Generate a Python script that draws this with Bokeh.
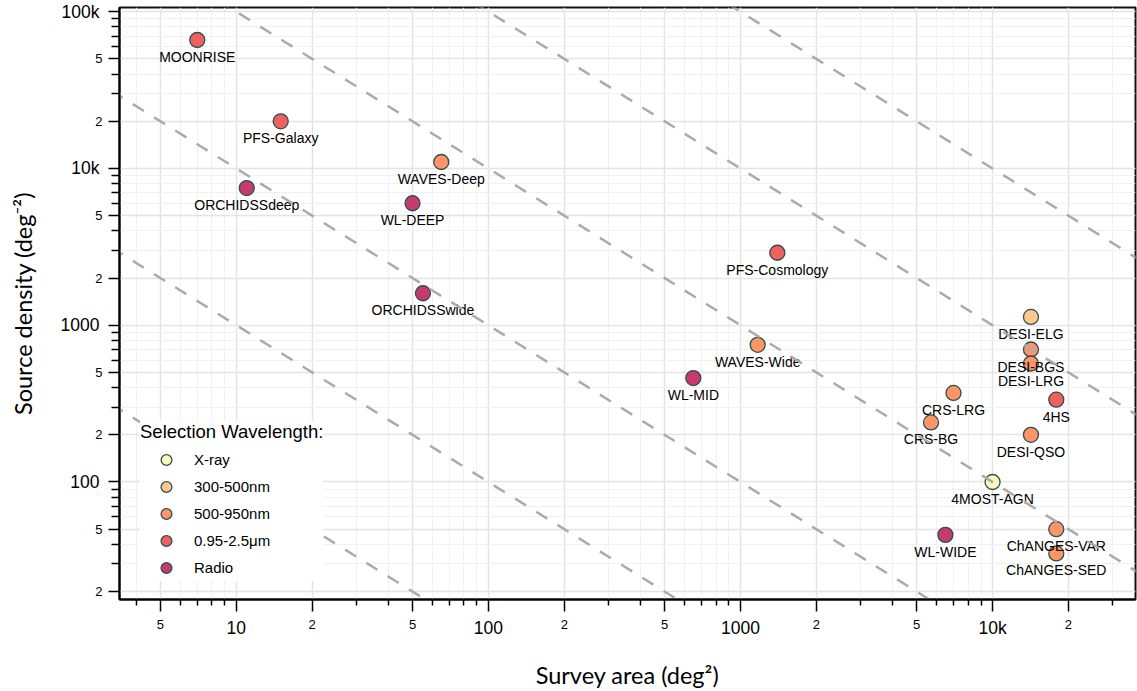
from bokeh.plotting import figure
from bokeh.models import (ColumnDataSource, LogAxis, FixedTicker, Legend, LegendItem,
                          Range1d, Grid)
from bokeh.embed import file_html
from bokeh.resources import INLINE
from bokeh.core.properties import value

# ---------------- data ----------------
names = ["MOONRISE", "PFS-Galaxy", "ORCHIDSSdeep", "WAVES-Deep", "WL-DEEP",
         "ORCHIDSSwide", "PFS-Cosmology", "WAVES-Wide", "WL-MID", "DESI-ELG",
         "DESI-BGS", "DESI-LRG", "4HS", "CRS-LRG", "CRS-BG", "DESI-QSO",
         "4MOST-AGN", "WL-WIDE", "ChANGES-VAR", "ChANGES-SED"]
area = [7, 15, 11, 65, 50, 55, 1400, 1170, 650, 14200,
        14200, 14200, 17900, 7000, 5700, 14200, 10000, 6500, 17900, 17900]
density = [66000, 20000, 7500, 11000, 6000, 1600, 2900, 750, 460, 1130,
           700, 570, 335, 370, 240, 200, 100, 46, 50, 35]
wavelength = ["0.95-2.5μm", "0.95-2.5μm", "Radio", "500-950nm", "Radio",
              "Radio", "0.95-2.5μm", "500-950nm", "Radio", "300-500nm",
              "500-950nm", "500-950nm", "0.95-2.5μm", "500-950nm", "500-950nm",
              "500-950nm", "X-ray", "Radio", "500-950nm", "500-950nm"]

categories = ["X-ray", "300-500nm", "500-950nm", "0.95-2.5μm", "Radio"]
cat_colors = ["#fcf8bb", "#fec98d", "#fd9566", "#f0605d", "#c73a6f"]

total_sources = [1e3, 1e4, 1e5, 1e6, 1e7, 1e8]
line_x = [1, 1e6]

x_decades = [1, 10, 100, 1000, 10000]
x_decade_labels = ["1", "10", "100", "1000", "10k"]
y_decades = [10, 100, 1000, 10000, 100000]
y_decade_labels = ["10", "100", "1000", "10k", "100k"]
labeled_mults = [2, 5]
minor_mults = [3, 4, 6, 7, 8, 9]

# ---------------- figure ----------------
p = figure(width=1137, height=691, x_axis_type="log", y_axis_type="log",
           x_axis_location=None, y_axis_location=None,
           x_range=Range1d(3.44, 36900), y_range=Range1d(17.8, 106400),
           output_backend="svg", toolbar_location=None,
           min_border_left=119, min_border_right=2, min_border_top=7,
           min_border_bottom=91)
p.outline_line_color = "#111111"
p.outline_line_width = 2
p.background_fill_color = "white"

TICK_FONT = "Liberation Sans"
LABEL_FONT = "Lato"


def build_ticks(decades):
    major, minor, overrides = [], [], {}
    for d in decades:
        major.append(d)
        overrides[d] = ""
        for m in labeled_mults:
            major.append(d * m)
            overrides[d * m] = str(m)
        for m in minor_mults:
            minor.append(d * m)
    return major, minor, overrides


xmaj, xmin, xover = build_ticks(x_decades)
ymaj, ymin, yover = build_ticks(y_decades)

# inner x axis: all ticks + small 2/5 labels
xa1 = LogAxis(ticker=FixedTicker(ticks=xmaj, minor_ticks=xmin),
              major_label_overrides=xover,
              major_tick_out=12, major_tick_in=0, minor_tick_out=6, minor_tick_in=0,
              major_tick_line_width=1.5, minor_tick_line_width=1.5,
              axis_line_width=2, major_label_standoff=8,
              major_label_text_font=TICK_FONT, major_label_text_font_size="13px",
              major_label_text_color="black")
# outer x axis: large decade labels
xa2 = LogAxis(ticker=FixedTicker(ticks=x_decades, minor_ticks=[]),
              major_label_overrides=dict(zip(x_decades, x_decade_labels)),
              major_tick_line_color=None, minor_tick_line_color=None,
              axis_line_color=None, major_tick_out=0, major_tick_in=0,
              major_label_standoff=-14,
              major_label_text_font=TICK_FONT, major_label_text_font_size="17.5px",
              major_label_text_color="black",
              axis_label="Survey area (deg²)", axis_label_standoff=20,
              axis_label_text_font=LABEL_FONT, axis_label_text_font_size="23.5px",
              axis_label_text_font_style="normal", axis_label_text_color="black")
p.add_layout(xa1, "below")
p.add_layout(xa2, "below")

ya1 = LogAxis(ticker=FixedTicker(ticks=ymaj, minor_ticks=ymin),
              major_label_overrides=yover,
              major_tick_out=11, major_tick_in=0, minor_tick_out=8, minor_tick_in=0,
              major_tick_line_width=1.5, minor_tick_line_width=1.5,
              axis_line_width=2, major_label_standoff=6,
              major_label_text_font=TICK_FONT, major_label_text_font_size="13px",
              major_label_text_color="black")
ya2 = LogAxis(ticker=FixedTicker(ticks=y_decades, minor_ticks=[]),
              major_label_overrides=dict(zip(y_decades, y_decade_labels)),
              major_tick_line_color=None, minor_tick_line_color=None,
              axis_line_color=None, major_tick_out=0, major_tick_in=0,
              major_label_standoff=-7,
              major_label_text_font=TICK_FONT, major_label_text_font_size="17.5px",
              major_label_text_color="black",
              axis_label="Source density (deg⁻²)", axis_label_standoff=21,
              axis_label_text_font=LABEL_FONT, axis_label_text_font_size="23.5px",
              axis_label_text_font_style="normal", axis_label_text_color="black")
p.add_layout(ya1, "left")
p.add_layout(ya2, "left")

for dim, ax in ((0, xa1), (1, ya1)):
    g = Grid(dimension=dim, ticker=ax.ticker,
             grid_line_color="#e4e4e4", grid_line_width=1.5,
             minor_grid_line_color="#f1f1f1", minor_grid_line_width=1)
    p.add_layout(g)

# ---------------- points ----------------
items = []
for cat, col in zip(categories, cat_colors):
    idx = [i for i, w in enumerate(wavelength) if w == cat]
    src = ColumnDataSource(dict(x=[area[i] for i in idx], y=[density[i] for i in idx]))
    r = p.scatter("x", "y", source=src, size=15, fill_color=col,
                  line_color="#2f4f4f", line_width=1.3)
    items.append(LegendItem(label=cat, renderers=[r]))

lab_src = ColumnDataSource(dict(x=area, y=density, t=names))
p.text("x", "y", text="t", source=lab_src, text_align="center",
       text_baseline="middle", y_offset=17, text_font=value(TICK_FONT),
       text_font_size="14px", text_color="black")

for n in total_sources:
    p.line(line_x, [n / v for v in line_x], line_color="#ababab",
           line_width=2.5, line_dash="13 12")

legend = Legend(items=items, title="Selection Wavelength:", location=(21, 18),
                padding=3, spacing=0, glyph_width=52, glyph_height=27,
                label_standoff=2, label_height=20, title_standoff=3,
                title_text_font=TICK_FONT, title_text_font_size="18.5px",
                title_text_font_style="normal", title_text_color="black",
                label_text_font=TICK_FONT, label_text_font_size="15px",
                label_text_color="black",
                border_line_color=None, background_fill_color="white",
                background_fill_alpha=1.0)
p.add_layout(legend)

open("out.html", "w").write(file_html(p, INLINE))
